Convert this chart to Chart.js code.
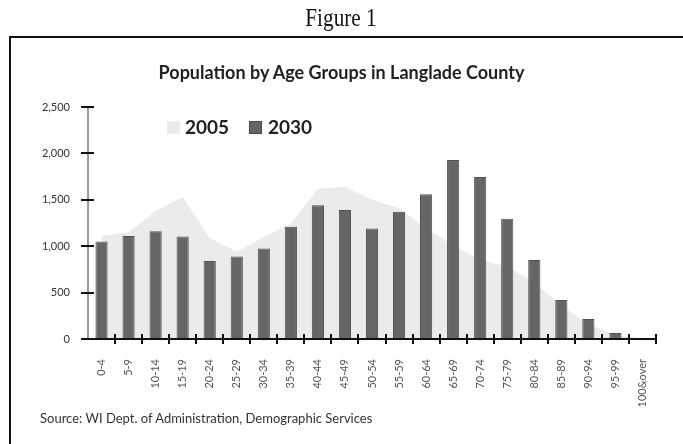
<!DOCTYPE html>
<html>
<head>
<meta charset="utf-8">
<script src="https://cdn.jsdelivr.net/npm/chart.js@4.4.1/dist/chart.umd.min.js"></script>
<style>
  html, body { margin: 0; padding: 0; background: #fff; }
  #wrap { position: relative; width: 683px; height: 444px; overflow: hidden; background: #fff; }
  #fig { position: absolute; left: 0; width: 683px; top: 4px; text-align: center;
         font-family: "Liberation Serif", "DejaVu Serif", serif; font-size: 25px; color: #111; }
  #fig span { display: inline-block; transform: scaleX(0.85); }
  #frame { position: absolute; left: 9px; top: 36px; width: 700px; height: 450px;
           border-left: 2px solid #111; border-top: 2px solid #111; }
  #title { position: absolute; left: 0; width: 683px; top: 61px; text-align: center;
           font-family: Lato, "Open Sans", sans-serif; font-weight: bold; font-size: 18px; color: #222; }
  .lg { position: absolute; font-family: Lato, "Open Sans", sans-serif; font-weight: bold; font-size: 19px; color: #222; line-height: 19px; }
  .sw { position: absolute; width: 13px; height: 13px; }
  #source { position: absolute; left: 40px; top: 410px; font-family: Lato, "Open Sans", sans-serif;
            font-size: 13px; color: #333; }
  canvas { position: absolute; left: 0; top: 0; }
</style>
</head>
<body>
<div id="wrap">
  <canvas id="c" width="683" height="444"></canvas>
  <div id="fig"><span>Figure 1</span></div>
  <div id="frame"></div>
  <div id="title">Population by Age Groups in Langlade County</div>
  <div id="legend"></div>
  <div id="source">Source: WI Dept. of Administration, Demographic Services</div>
</div>
<script>
const ageGroups = ["0-4","5-9","10-14","15-19","20-24","25-29","30-34","35-39","40-44","45-49",
  "50-54","55-59","60-64","65-69","70-74","75-79","80-84","85-89","90-94","95-99","100&over"];
const pop2005 = [1110,1150,1380,1530,1085,940,1100,1245,1620,1640,1500,1410,1190,1010,850,780,610,360,160,45,5];
const pop2030 = [1050,1110,1160,1105,840,890,975,1210,1440,1390,1190,1370,1560,1930,1745,1295,850,420,215,65,0];
const yTicks = [0,500,1000,1500,2000,2500];
const seriesLabels = ["2005","2030"];
const seriesColors = ["#ebebeb","#666666"];

const axisMarks = {
  id: 'axisMarks',
  afterDatasetsDraw(chart) {
    const {ctx, chartArea: a, scales: {x, y}} = chart;
    ctx.save();
    ctx.strokeStyle = '#7a7a70';
    ctx.lineWidth = 1.5;
    ctx.beginPath(); ctx.moveTo(a.left, a.top); ctx.lineTo(a.left, a.bottom); ctx.stroke();
    ctx.strokeStyle = '#111';
    ctx.lineWidth = 2;
    yTicks.forEach(v => {
      const py = Math.round(y.getPixelForValue(v));
      ctx.beginPath(); ctx.moveTo(a.left - 7, py); ctx.lineTo(a.left + 6, py); ctx.stroke();
    });
    const by = Math.round(a.bottom);
    ctx.beginPath(); ctx.moveTo(a.left - 7, by); ctx.lineTo(a.right, by); ctx.stroke();
    for (let i = 1; i <= ageGroups.length; i++) {
      const px = Math.round(x.getPixelForValue(i - 0.5));
      ctx.beginPath(); ctx.moveTo(px, by - 5); ctx.lineTo(px, by + 5); ctx.stroke();
    }
    ctx.restore();
  }
};

new Chart(document.getElementById('c'), {
  data: {
    labels: ageGroups,
    datasets: [
      { type: 'line', label: seriesLabels[0], data: pop2005, fill: 'origin',
        backgroundColor: seriesColors[0], borderWidth: 0, borderColor: 'rgba(0,0,0,0)',
        pointRadius: 0, tension: 0, order: 2 },
      { type: 'bar', label: seriesLabels[1], data: pop2030,
        backgroundColor: seriesColors[1], borderColor: '#505050', borderWidth: 1,
        barPercentage: 1, categoryPercentage: 0.45, order: 1 }
    ]
  },
  options: {
    responsive: false,
    animation: false,
    layout: { padding: { left: 0, top: 107, right: 27, bottom: 0 } },
    plugins: { legend: { display: false }, tooltip: { enabled: false }, title: { display: false } },
    scales: {
      x: {
        type: 'category', offset: true,
        grid: { display: false }, border: { display: false },
        ticks: { autoSkip: false, maxRotation: 90, minRotation: 90, padding: 12,
                 color: '#555', font: { family: 'Lato', size: 11 } },
        afterFit(s) { s.height = 105; }
      },
      y: {
        min: 0, max: 2500,
        grid: { display: false }, border: { display: false },
        afterBuildTicks(s) { s.ticks = yTicks.map(v => ({ value: v })); },
        ticks: { padding: 10, color: '#333', font: { family: 'Lato', size: 11 },
                 callback: v => v.toLocaleString('en-US') },
        afterFit(s) { s.width = 88; }
      }
    }
  },
  plugins: [axisMarks]
});

// legend
const lg = document.getElementById('legend');
const lgPos = [{ sw: 167, tx: 185 }, { sw: 249, tx: 268 }];
seriesLabels.forEach((lab, i) => {
  const sw = document.createElement('div');
  sw.className = 'sw';
  sw.style.left = lgPos[i].sw + 'px'; sw.style.top = '121px';
  sw.style.background = seriesColors[i];
  if (i === 1) { sw.style.border = '1px solid #4a4a4a'; sw.style.width = '11px'; sw.style.height = '11px'; }
  lg.appendChild(sw);
  const t = document.createElement('div');
  t.className = 'lg'; t.textContent = lab;
  t.style.left = lgPos[i].tx + 'px'; t.style.top = '117px';
  lg.appendChild(t);
});
</script>
</body>
</html>
